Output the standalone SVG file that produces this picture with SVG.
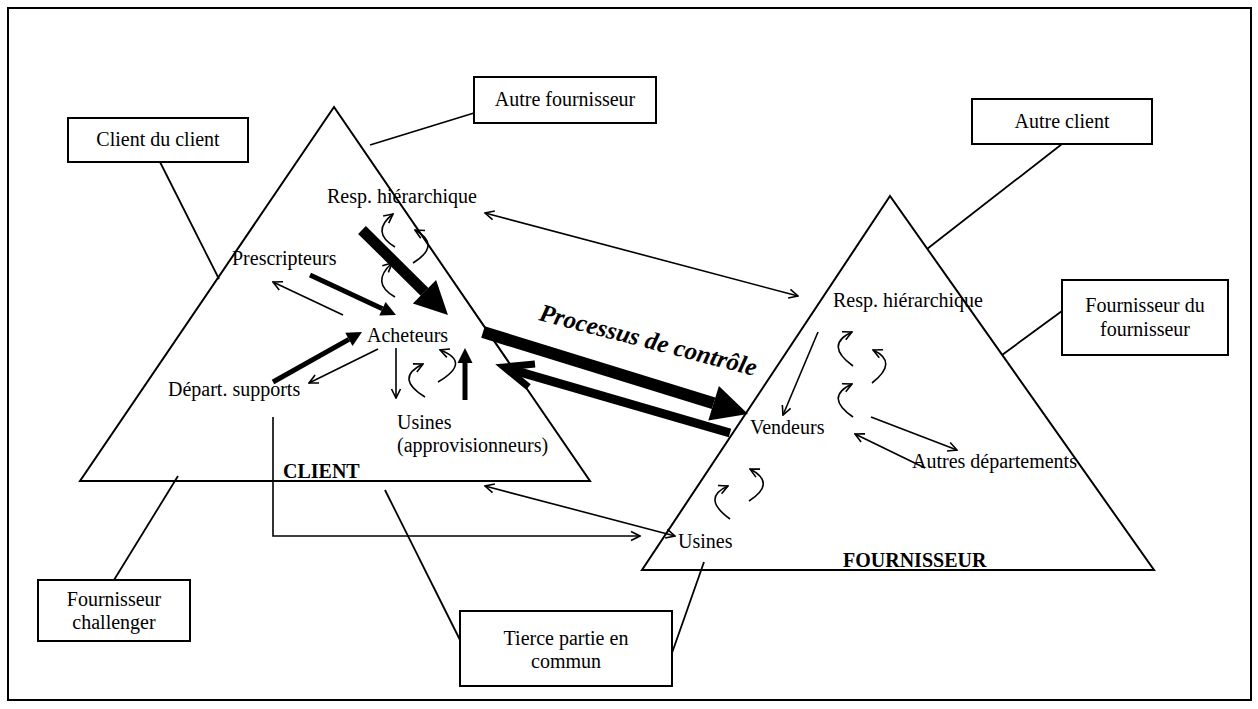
<svg xmlns="http://www.w3.org/2000/svg" width="1258" height="709" viewBox="0 0 1258 709">
<style>
text{font-family:"Liberation Serif","Times New Roman",serif;font-size:20px;fill:#000}
.b{font-weight:bold}
.c{text-anchor:middle}
.p{font-weight:bold;font-style:italic;font-size:25px}
.box{fill:#fff;stroke:#000;stroke-width:2}
.tri{fill:none;stroke:#000;stroke-width:2}
.ln{fill:none;stroke:#000;stroke-width:1.8}
.ar{fill:none;stroke:#000;stroke-width:1.6;marker-end:url(#open)}
.ar2{fill:none;stroke:#000;stroke-width:1.6;marker-end:url(#open);marker-start:url(#open)}
.fat{fill:none;stroke:#000;marker-end:url(#solid)}
</style>
<defs>
<marker id="open" viewBox="0 0 12 12" markerWidth="12" markerHeight="12" refX="11" refY="6" orient="auto-start-reverse" markerUnits="userSpaceOnUse">
<path d="M2,1.5 L11,6 L2,10.5" fill="none" stroke="#000" stroke-width="1.6"/>
</marker>
<marker id="solid" viewBox="0 0 10 10" markerWidth="3" markerHeight="3" refX="0" refY="5" orient="auto" overflow="visible">
<path d="M0,0 L10,5 L0,10 z" fill="#000"/>
</marker>
</defs>
<rect x="0" y="0" width="1258" height="709" fill="#fff"/>
<rect x="8" y="8" width="1243" height="692" fill="none" stroke="#000" stroke-width="2"/>

<g id="triangle-client">
<polygon class="tri" points="334,107 80,481 590,481"/>
<text class="b" x="283" y="478">CLIENT</text>
</g>
<g id="triangle-fournisseur">
<polygon class="tri" points="890,196 642,570 1154,570"/>
<text class="b" x="843" y="567">FOURNISSEUR</text>
</g>

<g id="connectors">
<line class="ln" x1="474" y1="113" x2="370" y2="145"/>
<line class="ln" x1="160" y1="162" x2="219" y2="279"/>
<line class="ln" x1="1062" y1="144" x2="927" y2="249"/>
<line class="ln" x1="1062" y1="311" x2="1002" y2="355"/>
<line class="ln" x1="114" y1="580" x2="178" y2="476"/>
<line class="ln" x1="460" y1="640" x2="385" y2="490"/>
<line class="ln" x1="672" y1="653" x2="704" y2="562"/>

<path class="fat" stroke-width="11" d="M362,230 L424.5,291.8"/>
<path class="fat" stroke-width="5" d="M310,275 L382.4,308.7"/>
<path class="fat" stroke-width="5" d="M273,382 L348.9,339.4"/>
<path class="fat" stroke-width="5" d="M465,400 L465,363"/>
<path class="fat" stroke-width="12" d="M483,332 L713.6,403.3"/>
<path d="M730,433 L508,368.5" stroke="#000" stroke-width="9" fill="none"/>
<path d="M535,364 L504,367 L528.5,387" stroke="#000" stroke-width="7" fill="none" stroke-linejoin="miter"/>

<line class="ar" x1="343" y1="315" x2="273" y2="282"/>
<line class="ar" x1="378" y1="349" x2="309" y2="383"/>
<line class="ar" x1="396" y1="348" x2="396" y2="398"/>
<path class="ar" d="M395,247 Q370,232 393,214"/>
<path class="ar" d="M395,297 Q370,283 392,263"/>
<path class="ar" d="M413,263 Q442,245 415,230"/>
<path class="ar" d="M425,397 Q394,378 423,364"/>
<path class="ar" d="M438,382 Q472,362 440,350"/>

<line class="ar2" x1="485" y1="213" x2="798" y2="296"/>
<line class="ar2" x1="485" y1="486" x2="675" y2="536"/>
<path class="ar" d="M273,417 L273,536 L640,536"/>

<line class="ar" x1="818" y1="332" x2="783" y2="415"/>
<path class="ar" d="M853,366 Q824,345 852,332"/>
<path class="ar" d="M872,383 Q899,362 873,350"/>
<path class="ar" d="M853,417 Q824,397 852,384"/>
<line class="ar" x1="871" y1="417" x2="957" y2="450"/>
<line class="ar" x1="925" y1="468" x2="855" y2="434"/>
<path class="ar" d="M730,519 Q701,498 728,486"/>
<path class="ar" d="M749,501 Q777,483 750,469"/>
</g>

<g id="labels-client">
<text x="327" y="203">Resp. hiérarchique</text>
<text x="232" y="265">Prescripteurs</text>
<text x="367" y="342">Acheteurs</text>
<text x="168" y="396">Départ. supports</text>
<text x="397" y="429">Usines</text>
<text x="397" y="452">(approvisionneurs)</text>
</g>
<g id="labels-fournisseur">
<text x="833" y="307">Resp. hiérarchique</text>
<text x="750" y="434">Vendeurs</text>
<text x="912" y="468">Autres départements</text>
<text x="678" y="548">Usines</text>
</g>
<g id="label-processus">
<text class="p" x="538" y="320" transform="rotate(14.5 538 320)">Processus de contrôle</text>
</g>

<g id="box-autre-fournisseur">
<rect class="box" x="474" y="77" width="182" height="46"/>
<text class="c" x="565" y="106">Autre fournisseur</text>
</g>
<g id="box-client-du-client">
<rect class="box" x="68" y="118" width="180" height="44"/>
<text class="c" x="158" y="146">Client du client</text>
</g>
<g id="box-autre-client">
<rect class="box" x="972" y="99" width="180" height="45"/>
<text class="c" x="1062" y="128">Autre client</text>
</g>
<g id="box-fournisseur-du-fournisseur">
<rect class="box" x="1062" y="280" width="166" height="75"/>
<text class="c" x="1145" y="312">Fournisseur du</text>
<text class="c" x="1145" y="336">fournisseur</text>
</g>
<g id="box-fournisseur-challenger">
<rect class="box" x="38" y="580" width="152" height="61"/>
<text class="c" x="114" y="606">Fournisseur</text>
<text class="c" x="114" y="629">challenger</text>
</g>
<g id="box-tierce-partie">
<rect class="box" x="460" y="611" width="212" height="75"/>
<text class="c" x="566" y="645">Tierce partie en</text>
<text class="c" x="566" y="668">commun</text>
</g>
</svg>
